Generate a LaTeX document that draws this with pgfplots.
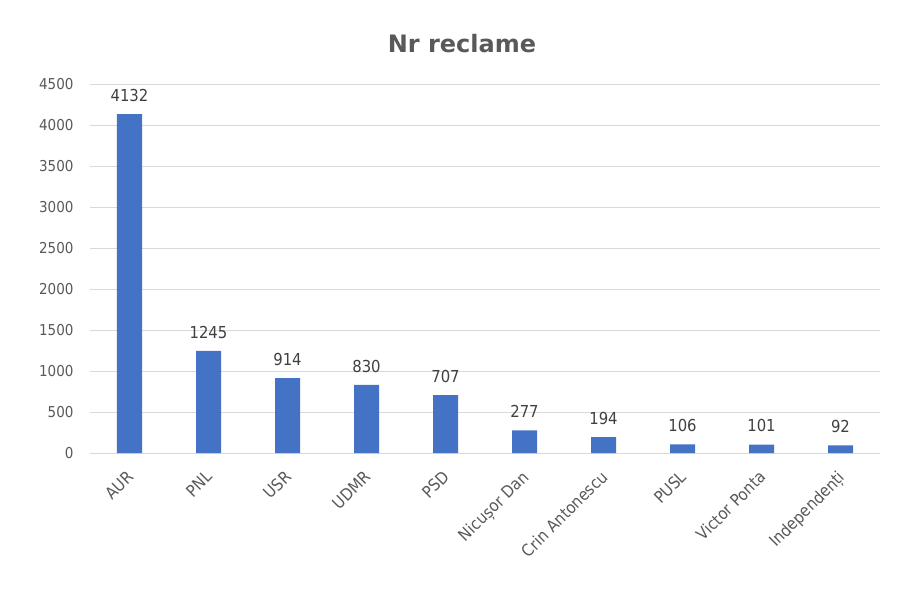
\documentclass[border=0pt]{standalone}
\usepackage{pgfplots}
\pgfplotsset{compat=1.18}
\usepackage{fontspec}
\setmainfont{DejaVu Sans}
\newfontfamily\condfont{DejaVu Sans Condensed}
\definecolor{barblue}{HTML}{4472C4}
\definecolor{txtgray}{HTML}{595959}
\definecolor{gridgray}{HTML}{D9D9D9}
\begin{document}
\begin{tikzpicture}[x=1pt,y=1pt]
  \path[use as bounding box] (0,0) rectangle (908,606);
  \node[text=txtgray, font=\fontsize{24}{28}\selectfont\bfseries] at (462,562) {Nr reclame};
  \begin{axis}[
      at={(90pt,153pt)}, anchor=south west,
      scale only axis, width=790pt, height=369pt,
      ymin=0, ymax=4500, ytick={0,500,...,4500},
      xmin=-0.5, xmax=9.5,
      xtick={0,...,9},
      xticklabels={AUR,PNL,USR,UDMR,PSD,Nicușor Dan,Crin Antonescu,PUSL,Victor Ponta,Independenți},
      axis line style={draw=none},
      axis x line*=bottom,
      x axis line style={draw=gridgray, line width=1pt},
      ymajorgrids, grid style={gridgray, line width=0.8pt},
      major tick length=0pt,
      tick label style={text=txtgray, font=\condfont\fontsize{15}{18}\selectfont},
      /pgf/number format/assume math mode=true,
      yticklabel style={/pgf/number format/fixed, /pgf/number format/1000 sep={}, xshift=-13pt},
      xticklabel style={rotate=45, anchor=north east, inner sep=2pt, yshift=-7pt, xshift=-12pt,
        font=\condfont\fontsize{16.5}{18}\selectfont},
      nodes near coords,
      every node near coord/.append style={text=black!75, font=\condfont\fontsize{16.5}{18}\selectfont, yshift=9pt,
        /pgf/number format/fixed, /pgf/number format/1000 sep={}},
      clip=false,
    ]
    \addplot[ybar, bar width=25pt, fill=barblue, draw=none] coordinates {
      (0,4132) (1,1245) (2,914) (3,830) (4,707)
      (5,277) (6,194) (7,106) (8,101) (9,92)
    };
  \end{axis}
\end{tikzpicture}
\end{document}
